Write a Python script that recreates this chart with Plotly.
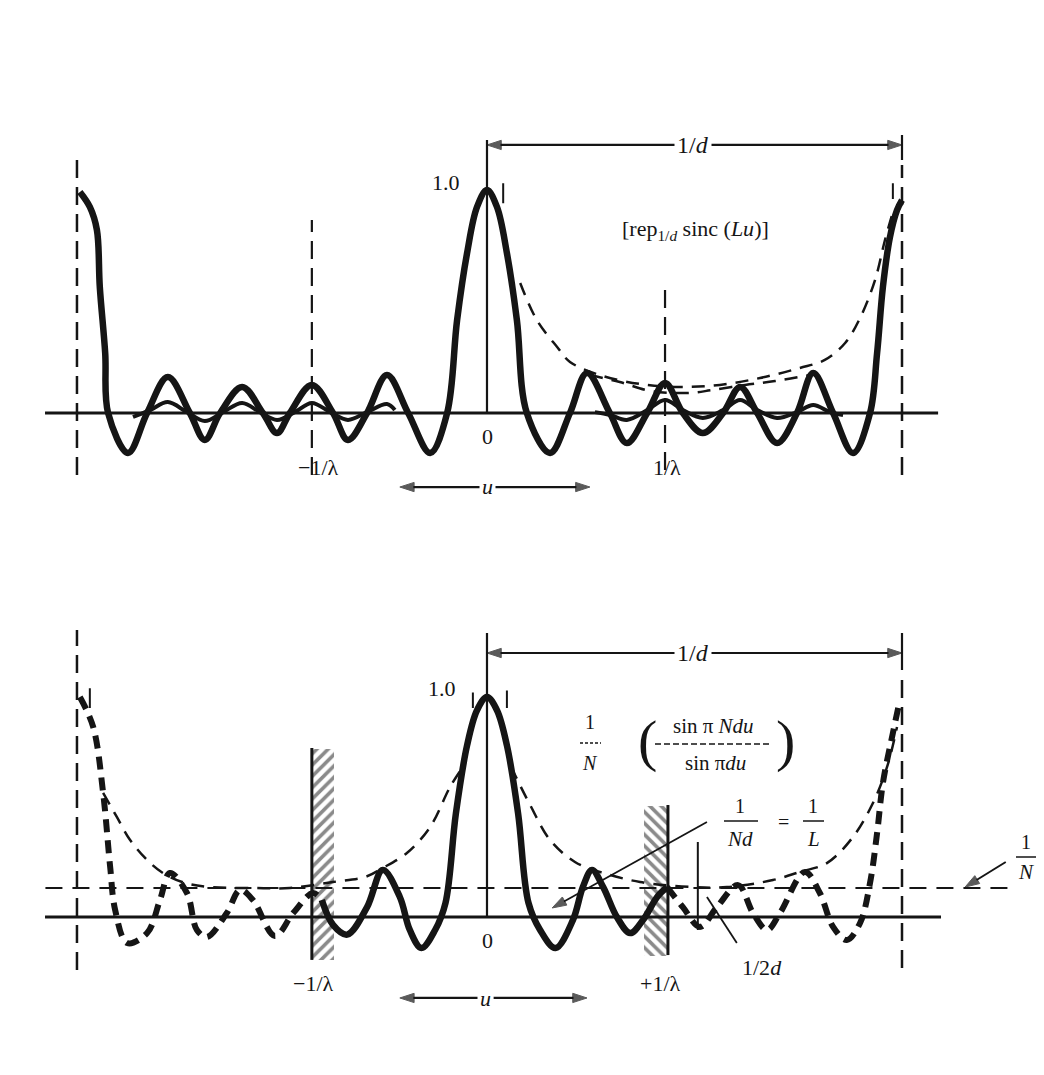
import plotly.graph_objects as go

# The page body keeps its default 8px margin, so the figure covers
# reference pixels 8..1036 horizontally and 8..1067 vertically.
OFF = 8
W, H = 1044 - 2 * OFF, 1075 - 2 * OFF
INK = "#151515"
PAPER = "#ffffff"
FONT = "Liberation Serif"

# ---------------- data: u in units of 1/d, v = relative amplitude ----------------
# upper panel: rep_{1/d} sinc(Lu)
top_u = [-0.981, -0.957, -0.940, -0.933, -0.920, -0.913, -0.865, -0.819, -0.769, -0.716,
         -0.680, -0.643, -0.590, -0.540, -0.506, -0.475, -0.422, -0.371, -0.335, -0.289,
         -0.241, -0.190, -0.137, -0.096, -0.072, -0.048, -0.024, 0.0, 0.024, 0.048,
         0.072, 0.096, 0.152, 0.200, 0.241, 0.296, 0.337, 0.386, 0.429, 0.472,
         0.520, 0.569, 0.610, 0.651, 0.699, 0.747, 0.786, 0.834, 0.882, 0.923,
         0.940, 0.954, 0.971, 0.988, 1.000]
top_v = [0.991, 0.924, 0.821, 0.565, 0.269, 0.0, -0.179, 0.0, 0.161, 0.0,
         -0.121, 0.0, 0.117, 0.0, -0.090, 0.0, 0.126, 0.0, -0.121, 0.0,
         0.170, 0.0, -0.179, 0.0, 0.417, 0.717, 0.924, 1.0, 0.924, 0.717,
         0.417, 0.0, -0.179, 0.0, 0.179, 0.0, -0.135, 0.0, 0.135, 0.0,
         -0.090, 0.0, 0.117, 0.0, -0.135, 0.0, 0.179, 0.0, -0.179, 0.0,
         0.269, 0.565, 0.789, 0.910, 0.955]

# small ripples (individual sinc tails) riding on the axis
ripple_left_u = [-0.853, -0.812, -0.769, -0.723, -0.680, -0.636, -0.590, -0.547,
                 -0.506, -0.463, -0.422, -0.378, -0.335, -0.289, -0.241, -0.222]
ripple_left_v = [-0.018, 0.013, 0.049, 0.004, -0.036, 0.004, 0.045, 0.004,
                 -0.031, 0.004, 0.045, 0.004, -0.031, 0.004, 0.040, 0.013]
ripple_right_u = [0.260, 0.296, 0.337, 0.386, 0.429, 0.472, 0.520, 0.569,
                  0.610, 0.651, 0.699, 0.747, 0.786, 0.827, 0.858]
ripple_right_v = [0.004, -0.009, -0.031, 0.013, 0.058, 0.013, -0.022, 0.013,
                  0.058, 0.013, -0.022, 0.004, 0.036, 0.004, -0.009]

# dashed envelopes of the upper panel
top_env_u = [0.080, 0.120, 0.169, 0.200, 0.272, 0.369, 0.465, 0.561,
             0.658, 0.754, 0.814, 0.863, 0.899, 0.935, 0.959, 0.976]
top_env_v = [0.583, 0.417, 0.296, 0.229, 0.170, 0.130, 0.117, 0.126,
             0.157, 0.202, 0.238, 0.314, 0.426, 0.596, 0.776, 0.888]
top_low_u = [0.248, 0.320, 0.393, 0.489, 0.542, 0.622, 0.694, 0.778]
top_low_v = [0.170, 0.139, 0.099, 0.090, 0.103, 0.126, 0.143, 0.170]

# lower panel: (1/N) sin(pi N d u) / sin(pi d u)
bot_solid_u = [-0.398, -0.371, -0.337, -0.289, -0.251, -0.210, -0.186, -0.158,
               -0.125, -0.100, -0.075, -0.048, -0.024, 0.0, 0.024, 0.048,
               0.075, 0.100, 0.128, 0.165, 0.207, 0.231, 0.253, 0.280,
               0.313, 0.345, 0.376, 0.410, 0.434]
bot_solid_v = [0.077, -0.036, -0.080, 0.045, 0.214, 0.091, -0.059, -0.141,
               -0.059, 0.064, 0.470, 0.780, 0.940, 1.0, 0.940, 0.780,
               0.470, 0.064, -0.059, -0.141, -0.014, 0.136, 0.214, 0.136,
               0.0, -0.073, -0.014, 0.091, 0.136]
bot_dash_left_u = [-0.981, -0.949, -0.925, -0.908, -0.896, -0.867, -0.819, -0.788,
                   -0.764, -0.723, -0.699, -0.675, -0.627, -0.595, -0.564, -0.511,
                   -0.467, -0.419, -0.398]
bot_dash_left_v = [1.0, 0.864, 0.564, 0.227, 0.032, -0.118, -0.073, 0.077,
                   0.200, 0.109, -0.059, -0.091, 0.018, 0.123, 0.077, -0.086,
                   0.018, 0.109, 0.077]
bot_dash_right_u = [0.434, 0.472, 0.513, 0.554, 0.605, 0.641, 0.675, 0.706,
                    0.766, 0.802, 0.834, 0.867, 0.899, 0.923, 0.940, 0.954,
                    0.978, 0.995]
bot_dash_right_v = [0.136, 0.045, -0.045, 0.045, 0.145, 0.018, -0.059, 0.018,
                    0.205, 0.109, -0.045, -0.105, -0.027, 0.155, 0.382, 0.609,
                    0.836, 0.986]
# envelope 1/(N sin pi d u)
env_left_u = [-0.925, -0.892, -0.860, -0.819, -0.781, -0.728, -0.667, -0.571,
              -0.475, -0.371, -0.294, -0.251, -0.193, -0.137, -0.089, -0.058]
env_left_v = [0.564, 0.455, 0.350, 0.259, 0.200, 0.155, 0.136, 0.132,
              0.132, 0.159, 0.182, 0.223, 0.291, 0.409, 0.591, 0.682]
env_right_u = [0.058, 0.104, 0.152, 0.212, 0.272, 0.369, 0.499, 0.578,
               0.689, 0.754, 0.819, 0.882, 0.930, 0.964, 0.988]
env_right_v = [0.682, 0.509, 0.350, 0.250, 0.205, 0.159, 0.136, 0.136,
               0.168, 0.205, 0.245, 0.364, 0.518, 0.682, 0.864]

one_over_N = 0.132
# hatched visibility-limit blocks at -1/lambda and +1/lambda: [left, right, bottom, top]
hatch_left = [-0.422, -0.369, -0.195, 0.768]
hatch_right = [0.378, 0.436, -0.173, 0.509]

U_LAMBDA_NEG, U_LAMBDA_POS, U_HALF_D, U_PERIOD = -0.422, 0.429, 0.508, 1.0
U_LEFT_PEAK = -0.988

# ---------------- figure ----------------
fig = go.Figure()


def axes(row):
    return ("x", "y") if row == 1 else ("x2", "y2")


def curve(u, v, row, width, dash=None):
    xa, ya = axes(row)
    fig.add_trace(go.Scatter(
        x=u, y=v, xaxis=xa, yaxis=ya, mode="lines",
        line=dict(color=INK, width=width, shape="spline", smoothing=1.0, dash=dash),
        hoverinfo="skip", showlegend=False))


def hatch(box, shape):
    l, r, b, t = box
    fig.add_trace(go.Bar(
        x=[(l + r) / 2], y=[t - b], base=[b], width=[r - l], xaxis="x2", yaxis="y2",
        marker=dict(color=PAPER, line=dict(width=0),
                    pattern=dict(shape=shape, fgcolor=INK, bgcolor=PAPER, size=8, solidity=0.45)),
        hoverinfo="skip", showlegend=False))


def arrow(tail, head, row, width=2.2):
    """Line from tail to head with an arrowhead marker at the head."""
    xa, ya = axes(row)
    fig.add_trace(go.Scatter(
        x=[tail[0], head[0]], y=[tail[1], head[1]], xaxis=xa, yaxis=ya,
        mode="lines+markers", line=dict(color=INK, width=width),
        marker=dict(symbol="arrow", size=[0, 15], angleref="previous", color=INK,
                    line=dict(width=1, color=INK)),
        hoverinfo="skip", showlegend=False))


def double_arrow(a, b, row, width=2.2):
    mid = ((a[0] + b[0]) / 2, (a[1] + b[1]) / 2)
    arrow(mid, a, row, width)
    arrow(mid, b, row, width)


hatch(hatch_left, "/")
hatch(hatch_right, "\\")

# upper panel curves
curve(top_u, top_v, 1, 6.5)
curve(ripple_left_u, ripple_left_v, 1, 4)
curve(ripple_right_u, ripple_right_v, 1, 4)
curve(top_env_u, top_env_v, 1, 2.5, "13px,9px")
curve(top_low_u, top_low_v, 1, 2.5, "13px,9px")

# lower panel curves
curve(env_left_u, env_left_v, 2, 2.5, "13px,9px")
curve(env_right_u, env_right_v, 2, 2.5, "13px,9px")
curve(bot_solid_u, bot_solid_v, 2, 6.5)
curve(bot_dash_left_u, bot_dash_left_v, 2, 6, "13px,8px")
curve(bot_dash_right_u, bot_dash_right_v, 2, 6, "13px,8px")

# dimension arrows and leaders
double_arrow((0.0, 1.202), (U_PERIOD, 1.202), 1)
double_arrow((-0.210, -0.332), (0.248, -0.332), 1)
double_arrow((0.0, 1.2), (U_PERIOD, 1.2), 2)
double_arrow((-0.210, -0.368), (0.241, -0.368), 2)
arrow((0.530, 0.432), (0.157, 0.041), 2, width=1.8)
arrow((1.250, 0.250), (1.152, 0.136), 2, width=2)

shapes = []


def seg(x0, y0, x1, y1, row, width=2.2, dash=None):
    xr, yr = axes(row)
    shapes.append(dict(type="line", xref=xr, yref=yr, x0=x0, y0=y0, x1=x1, y1=y1,
                       line=dict(color=INK, width=width, dash=dash)))


VD = "18px,9px"
# upper panel reference lines
seg(-1.065, 0, 1.087, 0, 1, 3)
seg(0, 0, 0, 1.224, 1, 2.2)
seg(U_LEFT_PEAK, -0.278, U_LEFT_PEAK, 1.166, 1, 2.5, VD)
seg(U_LAMBDA_NEG, -0.278, U_LAMBDA_NEG, 0.865, 1, 2.2, VD)
seg(U_LAMBDA_POS, -0.256, U_LAMBDA_POS, 0.552, 1, 2.2, VD)
seg(U_PERIOD, -0.278, U_PERIOD, 1.112, 1, 2.5, VD)
seg(U_PERIOD, 1.135, U_PERIOD, 1.247, 1, 2.2)
seg(0.039, 0.94, 0.039, 1.03, 1, 2)
seg(0.978, 0.96, 0.978, 1.03, 1, 2)

# lower panel reference lines
seg(-1.065, 0, 1.094, 0, 2, 3)
seg(0, 0, 0, 1.291, 2, 2.2)
seg(U_LEFT_PEAK, -0.241, U_LEFT_PEAK, 1.305, 2, 2.5, VD)
seg(U_PERIOD, -0.232, U_PERIOD, 1.109, 2, 2.5, VD)
seg(U_PERIOD, 1.123, U_PERIOD, 1.291, 2, 2.2)
seg(-1.064, one_over_N, 1.275, one_over_N, 2, 2, "17px,10px")
seg(hatch_left[0], hatch_left[2], hatch_left[0], hatch_left[3], 2, 3)
seg(hatch_right[1], hatch_right[2], hatch_right[1], hatch_right[3], 2, 3)
seg(U_HALF_D, -0.059, U_HALF_D, 0.341, 2, 2)
seg(0.530, 0.091, 0.602, -0.118, 2, 1.8)
seg(-0.034, 0.95, -0.034, 1.02, 2, 2)
seg(0.048, 0.95, 0.048, 1.03, 2, 2)
seg(-0.957, 0.95, -0.957, 1.04, 2, 2)


def px_x(px):
    return (px - OFF) / W


def px_y(py):
    return 1 - (py - OFF) / H


def frac_bar(px0, px1, py, width=1.5, dash=None):
    shapes.append(dict(type="line", xref="paper", yref="paper",
                       x0=px_x(px0), x1=px_x(px1), y0=px_y(py), y1=px_y(py),
                       line=dict(color=INK, width=width, dash=dash)))


frac_bar(580, 601, 743, 1.5, "3px,2px")
frac_bar(655, 772, 744, 1.5, "6px,3px")
frac_bar(724, 758, 821, 1.5)
frac_bar(803, 824, 821, 1.5)
frac_bar(1016, 1036, 857, 1.5)

ann = []


def text(s, px, py, size=22, bg=False):
    d = dict(text=s, x=px_x(px), y=px_y(py), xref="paper", yref="paper",
             showarrow=False, xanchor="center", yanchor="middle",
             font=dict(family=FONT, size=size, color=INK))
    if bg:
        d["bgcolor"] = PAPER
        d["borderpad"] = 2
    ann.append(d)


# upper texts
text("1.0", 446, 182)
text("[rep<sub>1/<i>d</i></sub> sinc (<i>Lu</i>)]", 695, 230)
text("1/<i>d</i>", 693, 145, 24, bg=True)
text("0", 487, 437)
text("−1/λ", 318, 468)
text("1/λ", 667, 468)
text("<i>u</i>", 487, 486, 22, bg=True)

# lower texts
text("1.0", 442, 688)
text("1/<i>d</i>", 693, 653, 24, bg=True)
text("1", 590, 722, 20)
text("<i>N</i>", 590, 763, 20)
text("(", 647, 740, 58)
text(")", 785, 740, 58)
text("sin π <i>Ndu</i>", 713, 726, 21)
text("sin π<i>du</i>", 715, 763, 21)
text("1", 740, 806, 20)
text("<i>Nd</i>", 740, 839, 21)
text("=", 783, 822, 20)
text("1", 813, 806, 20)
text("<i>L</i>", 813, 839, 21)
text("1", 1026, 842, 20)
text("<i>N</i>", 1026, 872, 21)
text("0", 487, 940)
text("−1/λ", 313, 983)
text("+1/λ", 660, 983)
text("1/2<i>d</i>", 762, 967)
text("<i>u</i>", 485, 998, 22, bg=True)

# axis ranges: u = (px - 487)/415 ; top v = (413 - py)/223 ; bottom v = (917 - py)/220
X_RANGE = [-1.1542, 1.3229]
fig.update_layout(
    width=W, height=H, margin=dict(l=0, r=0, t=0, b=0),
    paper_bgcolor=PAPER, plot_bgcolor=PAPER, showlegend=False,
    xaxis=dict(domain=[0, 1], range=X_RANGE, visible=False, anchor="y", fixedrange=True),
    yaxis=dict(domain=[0.5, 1], range=[-0.5583, 1.8161], visible=False, anchor="x", fixedrange=True),
    xaxis2=dict(domain=[0, 1], range=X_RANGE, visible=False, anchor="y2", fixedrange=True),
    yaxis2=dict(domain=[0, 0.5], range=[-0.6818, 1.725], visible=False, anchor="x2", fixedrange=True),
    shapes=shapes, annotations=ann, bargap=0,
)
fig.write_html("out.html")
